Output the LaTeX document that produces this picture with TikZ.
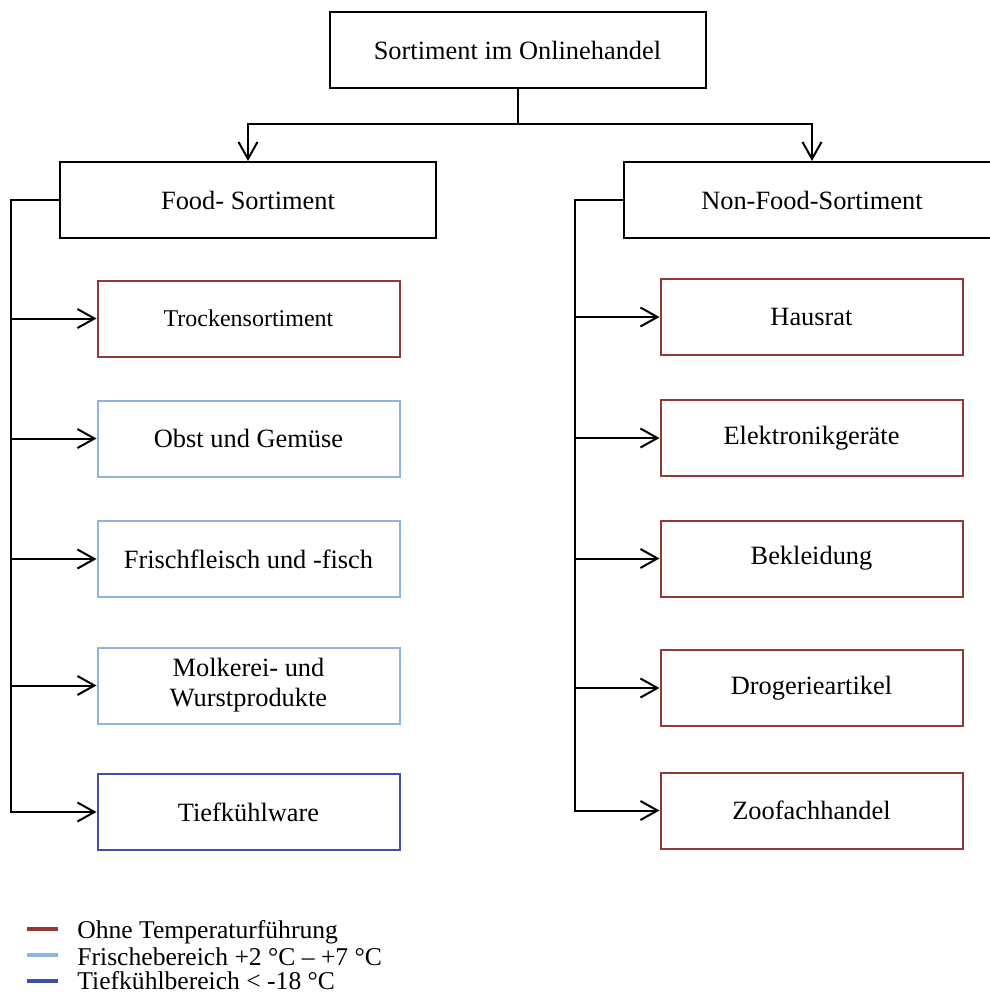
\documentclass[tikz,border=0pt]{standalone}
\usepackage{fontspec}
\setmainfont{Liberation Serif}
\usepackage{xcolor}
\usetikzlibrary{arrows.meta}
\definecolor{soRed}{HTML}{953735}
\definecolor{soFresh}{HTML}{8DB3E2}
\definecolor{soFrost}{HTML}{3F4FA8}
\tikzset{
  so diagram/.style={x=0.5pt, y=-0.5pt, font=\fontsize{13.2}{15}\selectfont,
    line join=miter},
  so box/.style={draw=black, fill=white, line width=1pt, align=center,
    minimum width=188pt, minimum height=38pt, inner sep=2pt},
  so item/.style={so box, minimum width=151pt},
  so dry/.style={so item, draw=soRed},
  so fresh/.style={so item, draw=soFresh},
  so frost/.style={so item, draw=soFrost},
  so line/.style={draw=black, line width=1pt},
  so arrow/.style={so line, -{Straight Barb[length=8.5pt,width=9.5pt,line width=1pt]}},
  so key/.style={line width=2pt},
  so key text/.style={anchor=west, inner sep=0pt, font=\fontsize{12.8}{14}\selectfont}
}
\begin{document}
\begin{tikzpicture}[so diagram]
\useasboundingbox (0,0) rectangle (990,1003);
% top level
\node[so box] (top) at (517.5,50) {Sortiment im Onlinehandel};
\node[so box] (food) at (248,200) {Food- Sortiment};
\node[so box] (nonfood) at (812,200) {Non-Food-Sortiment};
\draw[so arrow] (top.south) -- ++(0,35) -| (food.north);
\draw[so arrow] (top.south) -- ++(0,35) -| (nonfood.north);
% food
\node[so dry] (trocken) at (248.5,318.5) {\fontsize{12}{14}\selectfont Trockensortiment};
\node[so fresh] (obst) at (248.5,438.5) {Obst und Gemüse};
\node[so fresh] (fleisch) at (248.5,559) {Frischfleisch und -fisch};
\node[so fresh] (molkerei) at (248.5,685.5) {Molkerei- und\\Wurstprodukte};
\node[so frost] (tief) at (248.5,812) {Tiefkühlware};
\coordinate (lbus) at (11,0);
\draw[so arrow] (food.west) -| (lbus |- tief.west) -- (tief.west);
\foreach \n in {trocken,obst,fleisch,molkerei}
  \draw[so arrow] (lbus |- \n.west) -- (\n.west);
% non-food
\node[so dry] (hausrat) at (811.5,317) {Hausrat};
\node[so dry] (elektro) at (811.5,438) {Elektronikgeräte};
\node[so dry] (kleid) at (811.5,558.5) {Bekleidung};
\node[so dry] (drogerie) at (811.5,688) {Drogerieartikel};
\node[so dry] (zoo) at (811.5,810.5) {Zoofachhandel};
\coordinate (rbus) at (575,0);
\draw[so arrow] (nonfood.west) -| (rbus |- zoo.west) -- (zoo.west);
\foreach \n in {hausrat,elektro,kleid,drogerie}
  \draw[so arrow] (rbus |- \n.west) -- (\n.west);
% legend
\node[so key text] (keydry) at (77,932) {Ohne Temperaturführung};
\node[so key text] (keyfresh) at (77,956.5) {Frischebereich +2 °C – +7 °C};
\node[so key text] (keyfrost) at (77,981) {Tiefkühlbereich < -18 °C};
\draw[so key, soRed] ([xshift=-9.5pt,yshift=1.5pt]keydry.west) -- ++(-31,0);
\draw[so key, soFresh] ([xshift=-9.5pt,yshift=0.75pt]keyfresh.west) -- ++(-31,0);
\draw[so key, soFrost] ([xshift=-9.5pt]keyfrost.west) -- ++(-31,0);
\end{tikzpicture}
\end{document}
